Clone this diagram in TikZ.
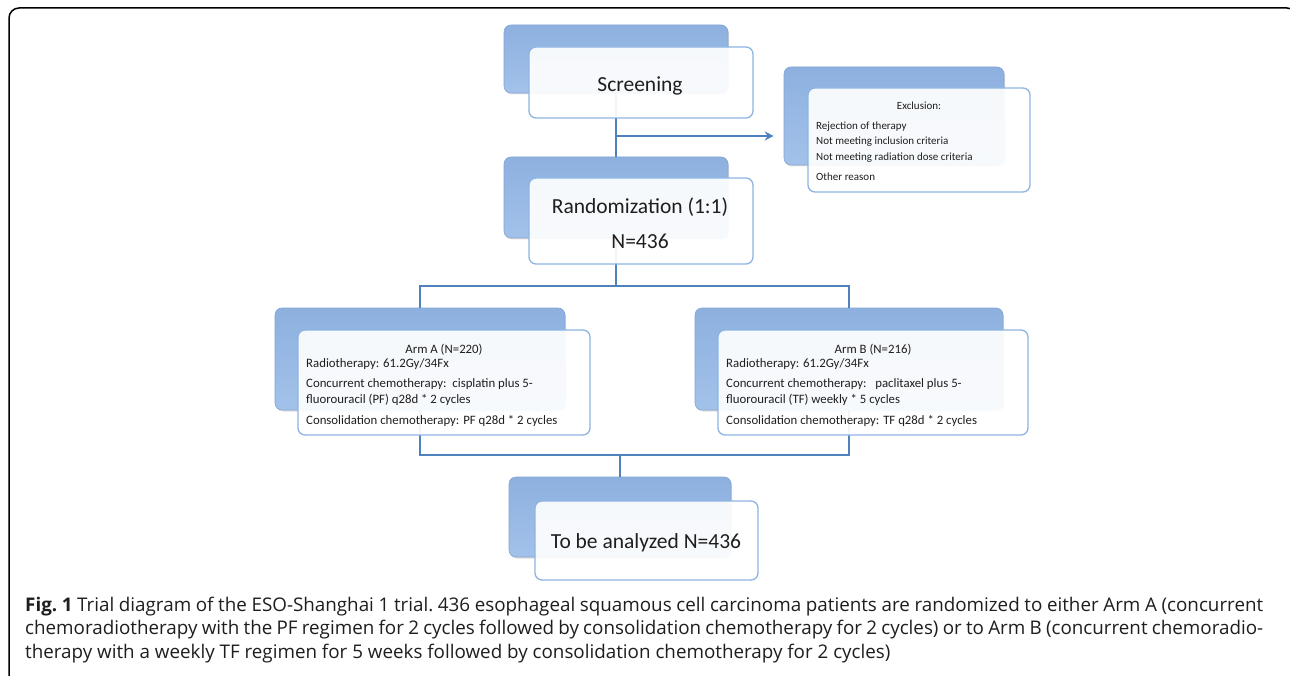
\documentclass[tikz,border=0pt]{standalone}
\usepackage{fontspec}
\setmainfont{Carlito}
\newfontfamily\capfont{Open Sans}
\usetikzlibrary{arrows.meta,shadows}
\definecolor{backtop}{RGB}{141,176,223}
\definecolor{backbot}{RGB}{163,194,234}
\definecolor{backedge}{RGB}{130,165,212}
\definecolor{frontedge}{RGB}{141,180,226}
\definecolor{linkblue}{RGB}{79,129,189}
\definecolor{txt}{RGB}{30,30,30}
\begin{document}
\begin{tikzpicture}[x=1pt,y=-1pt,
  backbox/.style={rounded corners=7pt, top color=backtop, bottom color=backbot,
    draw=backedge, line width=0.6pt, inner sep=0pt,
    drop shadow={opacity=0.25, shadow xshift=1pt, shadow yshift=-1.5pt}},
  frontbox/.style={rounded corners=7pt, draw=frontedge, line width=1.3pt,
    fill=white, fill opacity=0.92, inner sep=0pt},
  link/.style={draw=linkblue, line width=2.4pt},
  bigtxt/.style={text=txt, inner sep=0pt, font=\fontsize{21.5}{26}\selectfont},
  smalltxt/.style={text=txt, inner sep=0pt, anchor=base west, font=\fontsize{12.8}{15}\selectfont},
  titletxt/.style={text=txt, inner sep=0pt, anchor=base, font=\fontsize{12.8}{15}\selectfont},
  exctxt/.style={text=txt, inner sep=0pt, anchor=base west, font=\fontsize{11}{13}\selectfont}
]
\useasboundingbox (0,0) rectangle (1290,676);
\fill[white] (0,0) rectangle (1290,676);
% frame
\draw[line width=1.5pt, rounded corners=10pt] (9,690) -- (9,8) -- (1297,8) -- (1297,690);

% back boxes
\node[backbox, minimum width=224pt, minimum height=68pt] (sb) at (616,59) {};
\node[backbox, minimum width=224pt, minimum height=81pt] (rb) at (616,197.5) {};
\node[backbox, minimum width=220pt, minimum height=98pt] (eb) at (894,116) {};
\node[backbox, minimum width=290pt, minimum height=102pt] (ab) at (420,359) {};
\node[backbox, minimum width=308pt, minimum height=102pt] (bb) at (849,359) {};
\node[backbox, minimum width=222pt, minimum height=80pt] (fb) at (620,517) {};

% connectors
\draw[link] (sb.south) -- (rb.north);
\coordinate (br) at (616,136);
\draw[link, -{Stealth[length=9pt,width=9pt]}, shorten >=10pt] (br) -- (br -| eb.west);
\coordinate (split) at (616,286);
\draw[link] (rb.south) -- (split);
\draw[link] (ab.north) |- (split) -| (bb.north);
\coordinate (join) at (620,455);
\draw[link] (ab.south) |- (join) -| (bb.south);
\draw[link] (join) -- (fb.north);

% front boxes
\node[frontbox, minimum width=224pt, minimum height=71pt] (sf) at (641,82.5) {};
\node[frontbox, minimum width=224pt, minimum height=86pt] (rf) at (641,221) {};
\node[frontbox, minimum width=222pt, minimum height=104pt] (ef) at (919,140) {};
\node[frontbox, minimum width=292pt, minimum height=105pt] (af) at (444,382.5) {};
\node[frontbox, minimum width=310pt, minimum height=105pt] (bf) at (873,382.5) {};
\node[frontbox, minimum width=223pt, minimum height=79pt] (ff) at (646.5,540.5) {};

% texts
\node[bigtxt] (st) at (640,86) {Screening};
\node[bigtxt] (rt1) at (640,207) {Randomization (1:1)};
\node[bigtxt] (rt2) at (640,241) {N=436};
\node[bigtxt] (ft) at (646,543) {To be analyzed N=436};

\node[titletxt, font=\fontsize{11}{13}\selectfont] (e0) at (919,110) {Exclusion:};
\node[exctxt] (e1) at (816,130) {Rejection of therapy};
\node[exctxt] (e2) at (816,145) {Not meeting inclusion criteria};
\node[exctxt] (e3) at (816,161) {Not meeting radiation dose criteria};
\node[exctxt] (e4) at (816,181) {Other reason};

\node[titletxt] (a0) at (444,353) {Arm A (N=220)};
\node[smalltxt] (a1) at (306,367) {Radiotherapy: 61.2Gy/34Fx};
\node[smalltxt] (a2) at (306,387) {Concurrent chemotherapy:\ \ cisplatin plus 5-};
\node[smalltxt] (a3) at (306,403) {fluorouracil (PF) q28d * 2 cycles};
\node[smalltxt] (a4) at (306,424) {Consolidation chemotherapy: PF q28d * 2 cycles};

\node[titletxt] (b0) at (873,353) {Arm B (N=216)};
\node[smalltxt] (b1) at (726,367) {Radiotherapy: 61.2Gy/34Fx};
\node[smalltxt] (b2) at (726,387) {Concurrent chemotherapy:\ \ \ paclitaxel plus 5-};
\node[smalltxt] (b3) at (726,403) {fluorouracil (TF) weekly * 5 cycles};
\node[smalltxt] (b4) at (726,424) {Consolidation chemotherapy: TF q28d * 2 cycles};

% caption
\node[anchor=north west, inner sep=0pt, text width=1238pt, align=justify, text=txt,
  font=\capfont\fontsize{18.8}{23.5}\selectfont\frenchspacing] (cap) at (25,596.5)
 {\textbf{Fig. 1} Trial diagram of the ESO-Shanghai 1 trial. 436 esophageal squamous cell carcinoma patients are randomized to either Arm A (concurrent\linebreak
 chemoradiotherapy with the PF regimen for 2 cycles followed by consolidation chemotherapy for 2 cycles) or to Arm B (concurrent chemoradio-\linebreak
 therapy with a weekly TF regimen for 5 weeks followed by consolidation chemotherapy for 2 cycles)};
\end{tikzpicture}
\end{document}
